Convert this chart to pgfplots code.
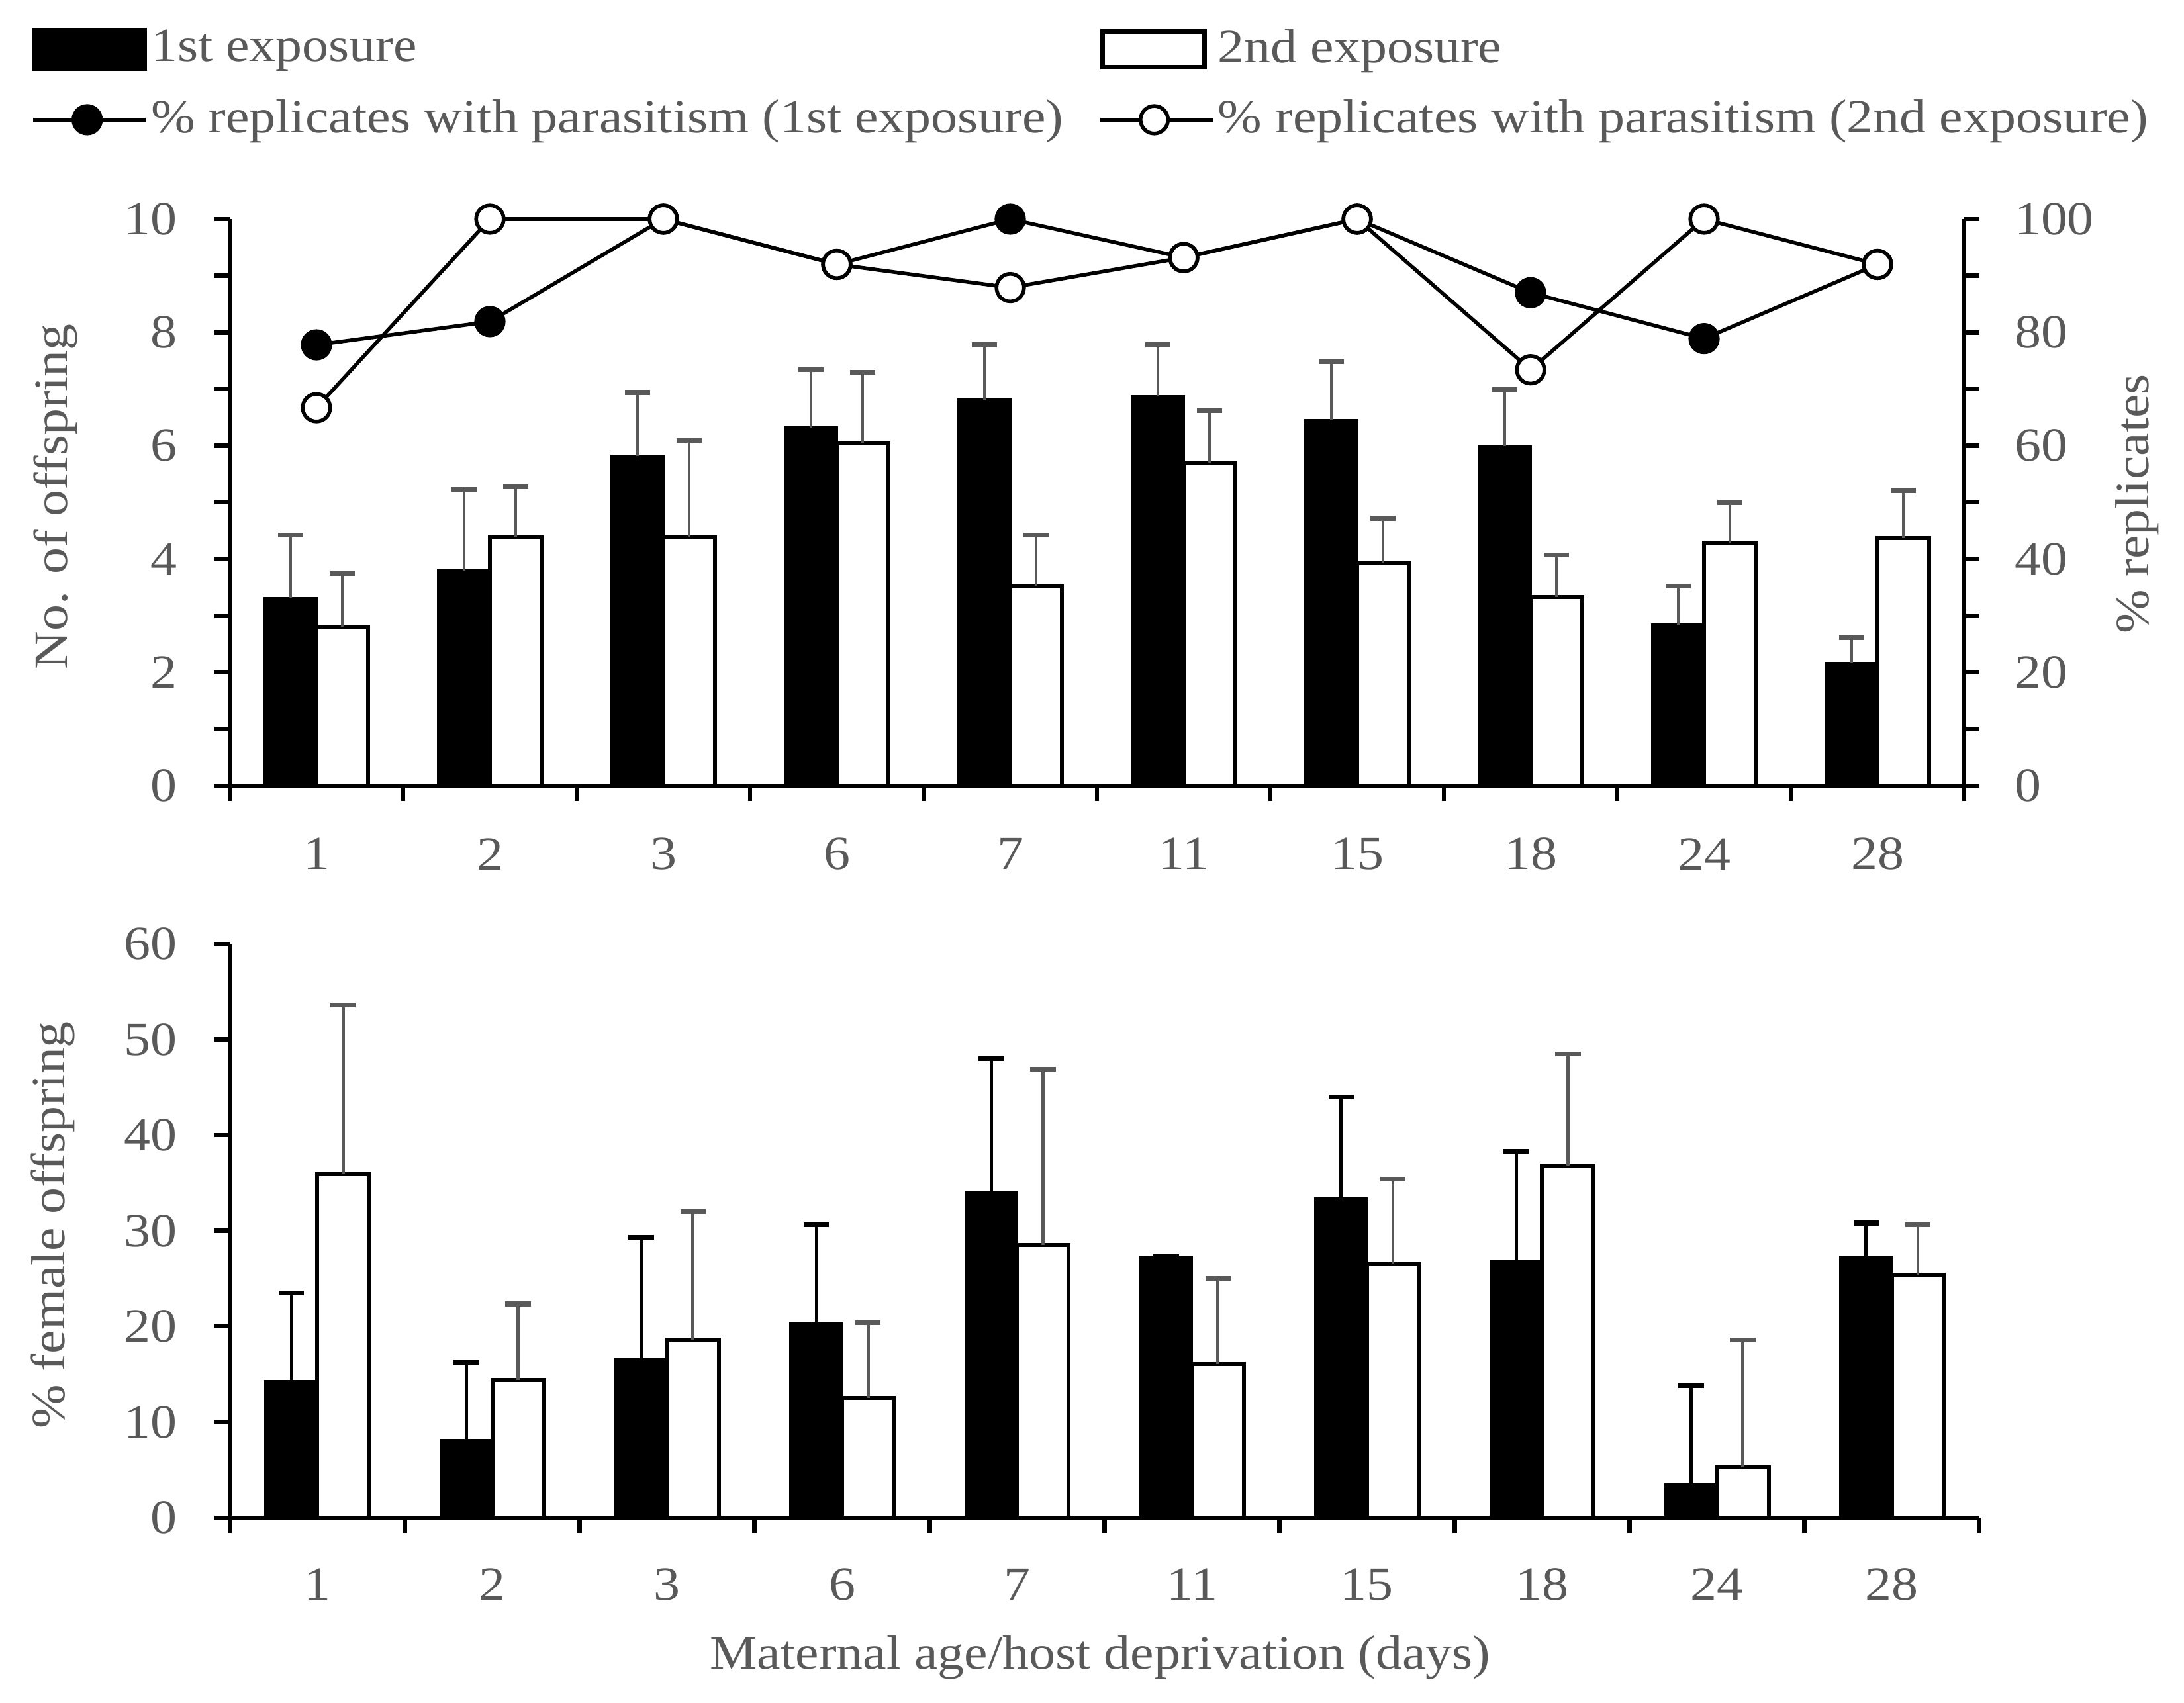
\documentclass[border=0pt]{standalone}
\usepackage{fontspec}
\setmainfont{Liberation Serif}[FakeStretch=1.11]
\usepackage{pgfplots}
\pgfplotsset{compat=1.18}
\definecolor{txt}{HTML}{595959}
\definecolor{eb}{HTML}{595959}
\pgfplotsset{
  common/.style={
    scale only axis,
    anchor=south west,
    xmin=-0.5, xmax=9.5,
    enlarge x limits=false,
    axis line style={line width=0.85pt, black},
    tick style={line width=0.85pt, black},
    tick align=outside,
    major tick length=2.9pt,
    minor tick length=2.9pt,
    /pgf/number format/assume math mode=true,
    tick label style={text=txt},
    label style={text=txt},
    clip=false,
  },
  xcats/.style={
    axis x line*=bottom,
    xtick={-0.5,0.5,...,9.5}, xticklabels={},
    extra x ticks={0,...,9},
    extra x tick labels={1,2,3,6,7,11,15,18,24,28},
    extra x tick style={major tick length=0pt,
      tick label style={anchor=center, yshift=#1}},
  },
  blackbar/.style={ybar, bar width=9.75pt, bar shift=0pt, fill=black, draw=black,
    error bars/.cd, y dir=plus, y explicit,
    error bar style={#1, line width=0.6pt},
    error mark options={#1, rotate=90, line width=0.9pt, mark size=2.4pt}},
  whitebar/.style={ybar, bar width=9.75pt, bar shift=0pt, fill=white, draw=black, line width=0.75pt,
    error bars/.cd, y dir=plus, y explicit,
    error bar style={eb, line width=0.6pt},
    error mark options={eb, rotate=90, line width=0.9pt, mark size=2.4pt}},
  lineleg/.style={legend image code/.code={\draw[mark repeat=2,mark phase=2,##1] plot coordinates {(0pt,0pt) (10.2pt,0pt) (21.3pt,0pt)};}},
  blackleg/.style={legend image code/.code={\fill[black] (0pt,-3.85pt) rectangle (21.3pt,3.85pt);}},
  whiteleg/.style={legend image code/.code={\draw[black,line width=0.9pt,fill=white] (0.45pt,-3.4pt) rectangle (19.7pt,3.4pt);}},
}
\begin{document}
\fontsize{9}{10.8}\selectfont
\begin{tikzpicture}
\useasboundingbox (0,0) rectangle (412.375pt,321.5pt);
% ---------------- top: bars, left axis
\begin{axis}[common, xcats=-12.9pt,
  at={(43.375pt,173.125pt)}, width=327.5pt, height=107pt,
  ymin=0, ymax=10,
  axis y line*=left,
  ytick={0,2,...,10}, minor ytick={1,3,...,9},
  yticklabel style={anchor=east, inner sep=0pt, xshift=-6.9pt},
  ylabel={No. of offspring},
  ylabel style={at={(axis description cs:-0.1005,0.51)}, anchor=center},
]
\addplot[blackbar=eb]
coordinates {(-0.149,3.31) +- (0,1.11) (0.851,3.80) +- (0,1.43) (1.851,5.82) +- (0,1.12)
 (2.851,6.32) +- (0,1.02) (3.851,6.81) +- (0,0.97) (4.851,6.87) +- (0,0.91)
 (5.851,6.45) +- (0,1.03) (6.851,5.99) +- (0,1.00) (7.851,2.84) +- (0,0.68) (8.851,2.17) +- (0,0.44)};
\addplot[whitebar]
coordinates {(0.149,2.80) +- (0,0.94) (1.149,4.38) +- (0,0.89) (2.149,4.38) +- (0,1.71)
 (3.149,6.04) +- (0,1.26) (4.149,3.52) +- (0,0.90) (5.149,5.70) +- (0,0.92)
 (6.149,3.92) +- (0,0.80) (7.149,3.33) +- (0,0.74) (8.149,4.29) +- (0,0.71) (9.149,4.37) +- (0,0.84)};
\end{axis}
% ---------------- top: lines, right axis
\begin{axis}[common,
  at={(43.375pt,173.125pt)}, width=327.5pt, height=107pt,
  ymin=0, ymax=100,
  axis x line=none, axis y line*=right,
  ytick={0,20,...,100}, minor ytick={10,30,...,90},
  yticklabel style={anchor=west, inner sep=0pt, xshift=6.4pt},
  ylabel={\% replicates},
  ylabel style={at={(axis description cs:1.0995,0.497)}, anchor=center, rotate=0},
  legend columns=2,
  legend cell align=left,
  legend style={at={(axis description cs:-0.115,1.3425)}, anchor=north west,
    draw=none, fill=none, inner sep=0pt, text=txt, row sep=4.5pt,
    nodes={inner sep=0.6pt},
    /tikz/every even column/.append style={column sep=6pt}},
]
\addlegendimage{blackleg}
\addlegendentry{1st exposure}
\addlegendimage{whiteleg}
\addlegendentry{2nd exposure}
\addlegendimage{lineleg, black, line width=0.7pt, mark=*, mark size=2.6pt, mark options={fill=black}}
\addlegendentry{\% replicates with parasitism (1st exposure)}
\addlegendimage{lineleg, black, line width=0.7pt, mark=*, mark size=2.6pt, mark options={fill=white}}
\addlegendentry{\% replicates with parasitism (2nd exposure)}
\addplot[black, line width=0.7pt, mark=*, mark size=2.6pt, mark options={fill=black}]
coordinates {(0,77.8) (1,81.9) (2,100) (3,92.0) (4,100) (5,93.2) (6,100) (7,87.0) (8,78.9) (9,92.0)};
\addplot[black, line width=0.7pt, mark=*, mark size=2.6pt, mark options={fill=white}]
coordinates {(0,66.7) (1,100) (2,100) (3,92.0) (4,87.9) (5,93.2) (6,100) (7,73.4) (8,100) (9,92.0)};
\end{axis}
% ---------------- bottom
\begin{axis}[common, xcats=-12.6pt,
  at={(43.375pt,34.875pt)}, width=330.375pt, height=108.375pt,
  ymin=0, ymax=60,
  axis y line*=left,
  ytick={0,10,...,60},
  yticklabel style={anchor=east, inner sep=0pt, xshift=-6.9pt},
  ylabel={\% female offspring},
  ylabel style={at={(axis description cs:-0.101,0.51)}, anchor=center},
  xlabel={Maternal age/host deprivation (days)},
  xlabel style={at={(axis description cs:0.4976,-0.2435)}, anchor=center},
]
\addplot[blackbar=black]
coordinates {(-0.148,14.3) +- (0,9.2) (0.852,8.1) +- (0,8.1) (1.852,16.6) +- (0,12.7)
 (2.852,20.4) +- (0,10.2) (3.852,34.0) +- (0,14.0) (4.852,27.3) +- (0,0)
 (5.852,33.4) +- (0,10.6) (6.852,26.8) +- (0,11.5) (7.852,3.5) +- (0,10.3) (8.852,27.3) +- (0,3.5)};
\addplot[whitebar]
coordinates {(0.148,35.95) +- (0,17.65) (1.148,14.4) +- (0,7.95) (2.148,18.6) +- (0,13.4)
 (3.148,12.5) +- (0,7.9) (4.148,28.5) +- (0,18.4) (5.148,16.05) +- (0,8.95)
 (6.148,26.5) +- (0,8.9) (7.148,36.8) +- (0,11.7) (8.148,5.25) +- (0,13.35) (9.148,25.4) +- (0,5.2)};
\end{axis}
\end{tikzpicture}
\end{document}
